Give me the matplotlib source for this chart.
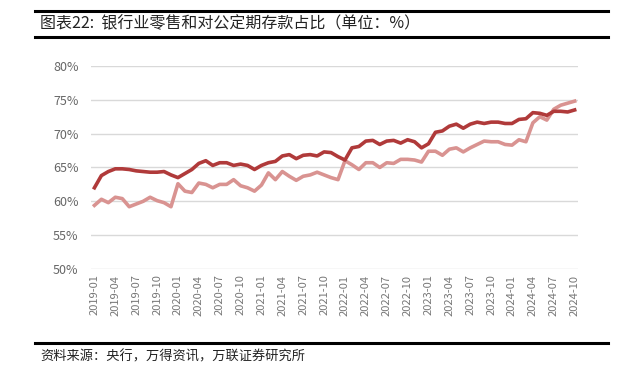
import matplotlib
matplotlib.use("Agg")
import matplotlib.pyplot as plt
from matplotlib.lines import Line2D
from matplotlib.ticker import FuncFormatter

plt.rcParams['font.family'] = ['Noto Sans CJK SC', 'DejaVu Sans']

# monthly dates 2019-01 .. 2024-10
months = [f"{y}-{m:02d}" for y in range(2019, 2025) for m in range(1, 13)][:70]

# darker series
dark = [62.0, 63.8, 64.4, 64.8, 64.8, 64.7, 64.5, 64.4, 64.3, 64.3,
        64.4, 63.9, 63.5, 64.1, 64.7, 65.6, 66.0, 65.3, 65.7, 65.7,
        65.3, 65.5, 65.3, 64.7, 65.3, 65.7, 65.9, 66.7, 66.9, 66.3,
        66.8, 66.9, 66.7, 67.3, 67.2, 66.6, 66.1, 67.9, 68.1, 68.9,
        69.0, 68.4, 68.9, 69.0, 68.6, 69.1, 68.8, 67.9, 68.5, 70.2,
        70.4, 71.1, 71.4, 70.8, 71.4, 71.7, 71.5, 71.7, 71.7, 71.5,
        71.5, 72.1, 72.2, 73.1, 73.0, 72.7, 73.3, 73.3, 73.2, 73.5]

# lighter series
light = [59.4, 60.3, 59.8, 60.6, 60.4, 59.2, 59.6, 60.0, 60.6, 60.1,
         59.8, 59.2, 62.6, 61.5, 61.3, 62.7, 62.5, 62.0, 62.5, 62.5,
         63.2, 62.3, 62.0, 61.5, 62.4, 64.2, 63.2, 64.4, 63.7, 63.1,
         63.7, 63.9, 64.3, 63.9, 63.5, 63.2, 66.0, 65.4, 64.7, 65.7,
         65.7, 65.0, 65.7, 65.6, 66.2, 66.2, 66.1, 65.8, 67.4, 67.4,
         66.8, 67.7, 67.9, 67.3, 67.9, 68.4, 68.9, 68.8, 68.8, 68.4,
         68.3, 69.1, 68.8, 71.6, 72.5, 72.0, 73.6, 74.2, 74.5, 74.8]

yticks = [50, 55, 60, 65, 70, 75, 80]

fig = plt.figure(figsize=(6.36, 3.76), dpi=100)
ax = fig.add_axes([0.143, 0.2846, 0.766, 0.54])

x = list(range(len(months)))
ax.plot(x, light, color='#D99391', lw=2.6, solid_joinstyle='round', zorder=3)
ax.plot(x, dark, color='#B03A3A', lw=2.6, solid_joinstyle='round', zorder=4)

ax.set_xlim(-0.5, len(months) - 0.5)
ax.set_ylim(50, 80)
ax.set_yticks(yticks)
ax.yaxis.set_major_formatter(FuncFormatter(lambda v, p: f"{v:.0f}%"))
ax.set_xticks(x[::3])
ax.set_xticklabels(months[::3], rotation=90, fontsize=8, color='#777777')
ax.tick_params(axis='y', labelsize=9, colors='#666666', length=0, pad=9)
ax.tick_params(axis='x', length=0, pad=4)
ax.grid(axis='y', color='#D9D9D9', lw=1)
ax.set_axisbelow(True)
for s in ax.spines.values():
    s.set_visible(False)

# title block lines
fig.add_artist(Line2D([35/636, 608/636], [1 - 11/376] * 2, color='black', lw=2.2))
fig.add_artist(Line2D([35/636, 608/636], [1 - 37/376] * 2, color='black', lw=2.2))
fig.add_artist(Line2D([35/636, 608/636], [1 - 343/376] * 2, color='black', lw=2.2))

fig.text(40/636, 1 - 24/376, "图表22:  银行业零售和对公定期存款占比（单位：%）",
         fontsize=11.5, va='center', ha='left', color='#222222')
fig.text(40/636, 1 - 357/376, "资料来源：央行，万得资讯，万联证券研究所",
         fontsize=9.5, va='center', ha='left', style='italic', color='#222222')

fig.savefig("out.png", dpi=100)
